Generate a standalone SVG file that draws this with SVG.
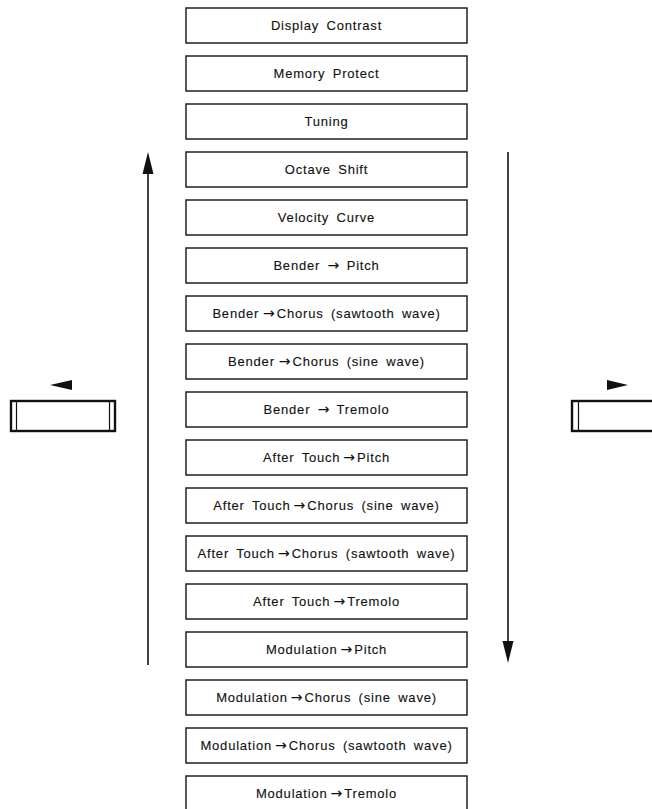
<svg xmlns="http://www.w3.org/2000/svg" width="652" height="809" viewBox="0 0 652 809">
  <style>
    .box { fill: #fff; stroke: #111; stroke-width: 1.4; }
    .lbl { font-family: "Liberation Sans", Arial, sans-serif; font-size: 13px; letter-spacing: 0.8px; word-spacing: 3px; fill: #111; stroke: #111; stroke-width: 0.12; text-anchor: middle; }
    .ar { font-family: "DejaVu Sans", sans-serif; font-size: 14px; letter-spacing: 0; }
    .line { stroke: #111; stroke-width: 1.6; fill: none; }
    .head { fill: #111; }
    .key { fill: #fff; stroke: #111; stroke-width: 2.4; }
    .keyin { stroke: #111; stroke-width: 1.2; }
  </style>
  <rect width="652" height="809" fill="#fff"/>

  <!-- labels sit on a baseline 4.5px below each box centre -->
  <g id="menu">
    <g id="n1"><rect class="box" x="186" y="8" width="281" height="35"/><text class="lbl" x="326.5" y="30">Display Contrast</text></g>
    <g id="n2"><rect class="box" x="186" y="56" width="281" height="35"/><text class="lbl" x="326.5" y="78">Memory Protect</text></g>
    <g id="n3"><rect class="box" x="186" y="104" width="281" height="35"/><text class="lbl" x="326.5" y="126">Tuning</text></g>
    <g id="n4"><rect class="box" x="186" y="152" width="281" height="35"/><text class="lbl" x="326.5" y="174">Octave Shift</text></g>
    <g id="n5"><rect class="box" x="186" y="200" width="281" height="35"/><text class="lbl" x="326.5" y="222">Velocity Curve</text></g>
    <g id="n6"><rect class="box" x="186" y="248" width="281" height="35"/><text class="lbl" x="326.5" y="270">Bender <tspan class="ar">→</tspan> Pitch</text></g>
    <g id="n7"><rect class="box" x="186" y="296" width="281" height="35"/><text class="lbl" x="326.5" y="318">Bender<tspan class="ar" dx="4">→</tspan><tspan dx="2">Chorus (sawtooth wave)</tspan></text></g>
    <g id="n8"><rect class="box" x="186" y="344" width="281" height="35"/><text class="lbl" x="326.5" y="366">Bender<tspan class="ar" dx="4">→</tspan><tspan dx="2">Chorus (sine wave)</tspan></text></g>
    <g id="n9"><rect class="box" x="186" y="392" width="281" height="35"/><text class="lbl" x="326.5" y="414">Bender <tspan class="ar">→</tspan> Tremolo</text></g>
    <g id="n10"><rect class="box" x="186" y="440" width="281" height="35"/><text class="lbl" x="326.5" y="462">After Touch<tspan class="ar" dx="3">→</tspan><tspan dx="2">Pitch</tspan></text></g>
    <g id="n11"><rect class="box" x="186" y="488" width="281" height="35"/><text class="lbl" x="326.5" y="510">After Touch<tspan class="ar" dx="3">→</tspan><tspan dx="2">Chorus (sine wave)</tspan></text></g>
    <g id="n12"><rect class="box" x="186" y="536" width="281" height="35"/><text class="lbl" x="326.5" y="558">After Touch<tspan class="ar" dx="3">→</tspan><tspan dx="2">Chorus (sawtooth wave)</tspan></text></g>
    <g id="n13"><rect class="box" x="186" y="584" width="281" height="35"/><text class="lbl" x="326.5" y="606">After Touch<tspan class="ar" dx="3">→</tspan><tspan dx="2">Tremolo</tspan></text></g>
    <g id="n14"><rect class="box" x="186" y="632" width="281" height="35"/><text class="lbl" x="326.5" y="654">Modulation<tspan class="ar" dx="3">→</tspan><tspan dx="2">Pitch</tspan></text></g>
    <g id="n15"><rect class="box" x="186" y="680" width="281" height="35"/><text class="lbl" x="326.5" y="702">Modulation<tspan class="ar" dx="3">→</tspan><tspan dx="2">Chorus (sine wave)</tspan></text></g>
    <g id="n16"><rect class="box" x="186" y="728" width="281" height="35"/><text class="lbl" x="326.5" y="750">Modulation<tspan class="ar" dx="3">→</tspan><tspan dx="2">Chorus (sawtooth wave)</tspan></text></g>
    <g id="n17"><rect class="box" x="186" y="776" width="281" height="35"/><text class="lbl" x="326.5" y="798">Modulation<tspan class="ar" dx="3">→</tspan><tspan dx="2">Tremolo</tspan></text></g>
  </g>

  <!-- scroll keys -->
  <g id="key-left">
    <rect class="key" x="11" y="401" width="104" height="30"/>
    <line class="keyin" x1="16.5" y1="401" x2="16.5" y2="431"/>
    <line class="keyin" x1="109.5" y1="401" x2="109.5" y2="431"/>
    <polygon class="head" points="50,385 72,380 72,390"/>
  </g>
  <g id="key-right">
    <rect class="key" x="572" y="401" width="90" height="30"/>
    <line class="keyin" x1="578.5" y1="401" x2="578.5" y2="431"/>
    <polygon class="head" points="628,385 607,380 607,390"/>
  </g>

  <g id="connectors">
    <line class="line" x1="148" y1="170" x2="148" y2="665"/>
    <polygon class="head" points="148,152 142.5,174 153.5,174"/>
    <line class="line" x1="508" y1="152" x2="508" y2="645"/>
    <polygon class="head" points="508,663 502.5,641 513.5,641"/>
  </g>
</svg>
